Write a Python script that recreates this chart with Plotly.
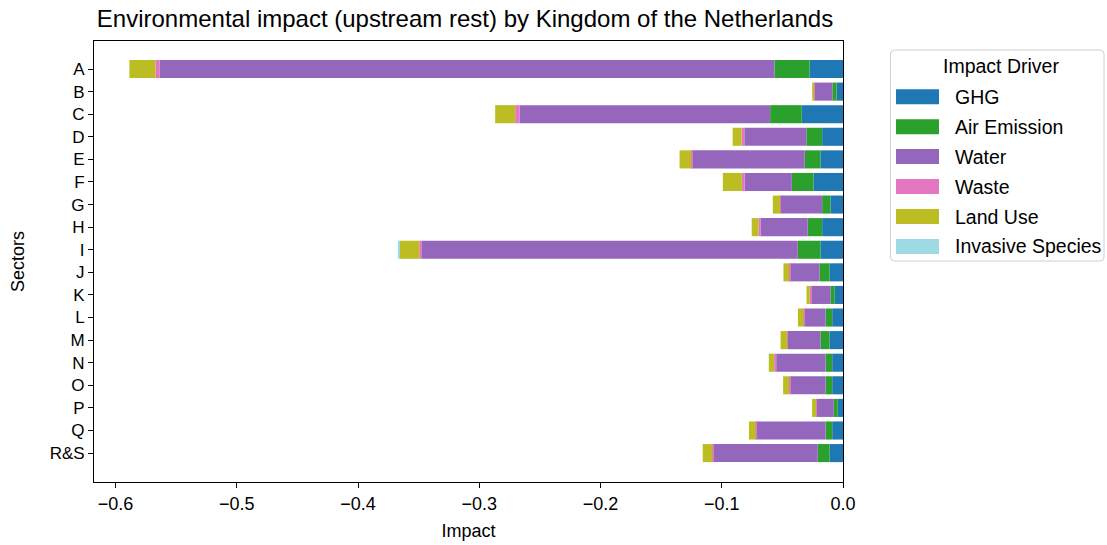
import plotly.graph_objects as go

# Sectors (top to bottom) and impact per driver, upstream rest, Kingdom of the Netherlands
sectors = ["A", "B", "C", "D", "E", "F", "G", "H", "I", "J",
           "K", "L", "M", "N", "O", "P", "Q", "R&S"]

ghg = [-0.0276, -0.0053, -0.0340, -0.0172, -0.0186, -0.0243, -0.0103, -0.0172, -0.0186,
       -0.0111, -0.0068, -0.0089, -0.0111, -0.0089, -0.0089, -0.0043, -0.0089, -0.0111]
air_emission = [-0.0289, -0.0035, -0.0261, -0.0130, -0.0130, -0.0179, -0.0069, -0.0119, -0.0187,
                -0.0083, -0.0036, -0.0055, -0.0074, -0.0055, -0.0055, -0.0033, -0.0055, -0.0097]
water = [-0.5073, -0.0144, -0.2067, -0.0512, -0.0929, -0.0390, -0.0344, -0.0390, -0.3100,
         -0.0239, -0.0159, -0.0173, -0.0270, -0.0407, -0.0289, -0.0143, -0.0572, -0.0858]
waste = [-0.0033, -0.0005, -0.0036, -0.0022, -0.0006, -0.0022, -0.0003, -0.0017, -0.0022,
         -0.0011, -0.0011, -0.0008, -0.0005, -0.0017, -0.0011, -0.0003, -0.0005, -0.0011]
land_use = [-0.0215, -0.0017, -0.0165, -0.0074, -0.0097, -0.0157, -0.0060, -0.0055, -0.0163,
            -0.0047, -0.0027, -0.0047, -0.0055, -0.0044, -0.0050, -0.0033, -0.0055, -0.0080]
invasive_species = [0.0, 0.0, 0.0, 0.0, 0.0, 0.0, 0.0, 0.0, -0.0013,
                    0.0, 0.0, 0.0, 0.0, 0.0, 0.0, 0.0, 0.0, 0.0]

drivers = ["GHG", "Air Emission", "Water", "Waste", "Land Use", "Invasive Species"]
driver_values = [ghg, air_emission, water, waste, land_use, invasive_species]
driver_colors = ["#1f77b4", "#2ca02c", "#9467bd", "#e377c2", "#bcbd22", "#9edae5"]

x_ticks = [-0.6, -0.5, -0.4, -0.3, -0.2, -0.1, 0.0]

FONT = "Liberation Sans, Arial, sans-serif"
W, H = 1107, 545
PL, PR, PT, PB = 94, 843, 41, 482  # plot area in pixels


def px_x(x):
    return (x - PL) / (PR - PL)


def px_y(y):
    return (PB - y) / (PB - PT)


fig = go.Figure()
for name, vals, col in zip(drivers, driver_values, driver_colors):
    fig.add_trace(go.Bar(
        y=sectors, x=vals, name=name, orientation="h",
        marker=dict(color=col, line=dict(width=0)),
        width=0.8, showlegend=False,
    ))

# legend drawn as a framed box at the right of the axes
shapes = []
annotations = []
bx0, bx1, by0, by1, r = 890.5, 1104, 50, 261, 4
pts = (f"M {px_x(bx0 + r)},{px_y(by0)} L {px_x(bx1 - r)},{px_y(by0)} "
       f"Q {px_x(bx1)},{px_y(by0)} {px_x(bx1)},{px_y(by0 + r)} "
       f"L {px_x(bx1)},{px_y(by1 - r)} "
       f"Q {px_x(bx1)},{px_y(by1)} {px_x(bx1 - r)},{px_y(by1)} "
       f"L {px_x(bx0 + r)},{px_y(by1)} "
       f"Q {px_x(bx0)},{px_y(by1)} {px_x(bx0)},{px_y(by1 - r)} "
       f"L {px_x(bx0)},{px_y(by0 + r)} "
       f"Q {px_x(bx0)},{px_y(by0)} {px_x(bx0 + r)},{px_y(by0)} Z")
shapes.append(dict(type="path", xref="paper", yref="paper", path=pts,
                   line=dict(color="#d0d0d0", width=1), fillcolor="rgba(255,255,255,0.8)"))
annotations.append(dict(xref="paper", yref="paper", x=px_x(1000.5), y=px_y(66),
                        text="Impact Driver", showarrow=False, xanchor="center", yanchor="middle",
                        font=dict(family=FONT, size=19.5, color="#000000")))
for i, (name, col) in enumerate(zip(drivers, driver_colors)):
    cy = 96.7 + i * 29.96
    shapes.append(dict(type="rect", xref="paper", yref="paper",
                       x0=px_x(896), x1=px_x(939), y0=px_y(cy - 7.5), y1=px_y(cy + 7.5),
                       line=dict(width=0), fillcolor=col))
    annotations.append(dict(xref="paper", yref="paper", x=px_x(953), y=px_y(cy),
                            text=name, showarrow=False, xanchor="left", yanchor="middle",
                            font=dict(family=FONT, size=19.5, color="#000000")))

fig.update_layout(
    width=W, height=H,
    barmode="relative",
    bargap=0.2,
    plot_bgcolor="white", paper_bgcolor="white",
    margin=dict(l=PL, r=W - PR, t=PT, b=H - PB, pad=0),
    font=dict(family=FONT, size=18, color="#000000"),
    title=dict(text="Environmental impact (upstream rest) by Kingdom of the Netherlands",
               x=465 / W, xanchor="center",
               y=1 - 19 / H, yanchor="middle", yref="container",
               font=dict(family=FONT, size=24, color="#000000")),
    xaxis=dict(
        range=[-0.6178, 0.0], tickvals=x_ticks, tickformat=".1f",
        automargin=False,
        showgrid=False, zeroline=False,
        showline=True, linecolor="black", linewidth=1, mirror=True,
        ticks="outside", ticklen=5, tickwidth=1, tickcolor="black",
        tickfont=dict(family=FONT, size=18),
        title=dict(text="Impact", font=dict(family=FONT, size=18), standoff=11),
    ),
    yaxis=dict(
        type="category", categoryorder="array", categoryarray=sectors,
        range=[17 + 1.28, -1.24],
        automargin=False,
        showgrid=False, zeroline=False,
        showline=True, linecolor="black", linewidth=1, mirror=True,
        ticks="outside", ticklen=5, tickwidth=1, tickcolor="black",
        tickfont=dict(family=FONT, size=17),
        title=dict(text="Sectors", font=dict(family=FONT, size=18), standoff=20),
    ),
    shapes=shapes,
    annotations=annotations,
)

fig.write_html("out.html")
